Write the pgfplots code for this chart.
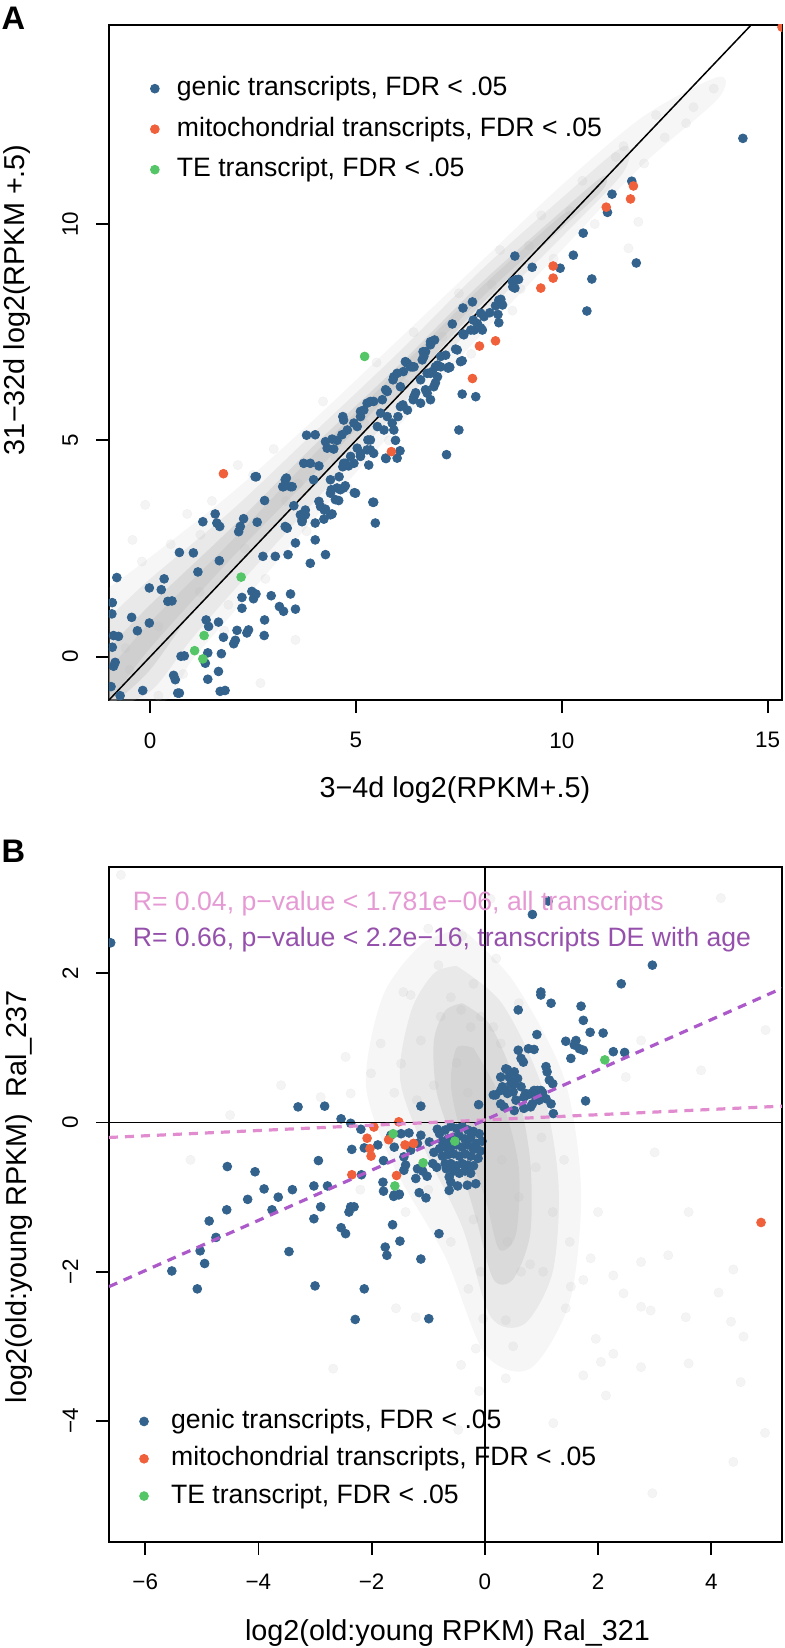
\documentclass[border=0pt]{standalone}
\usepackage{fontspec}
\setmainfont{Liberation Sans}
\usepackage{pgfplots}
\pgfplotsset{compat=1.18}

\definecolor{genic}{HTML}{33638D}
\definecolor{mito}{HTML}{F0603A}
\definecolor{tegreen}{HTML}{55C667}
\definecolor{cloud}{HTML}{B8B8B8}
\definecolor{pinkR}{HTML}{E59AD4}
\definecolor{purpR}{HTML}{9550AC}
\definecolor{pinkL}{HTML}{E28CD0}
\definecolor{purpL}{HTML}{AC5AC9}

\newcommand{\tickfont}{\fontsize{11.2}{13}\selectfont}
\newcommand{\labfont}{\fontsize{14.4}{17}\selectfont}
\newcommand{\legfont}{\fontsize{13.3}{16}\selectfont}

\pgfplotsset{
  rpanel/.style={
    scale only axis, width=336.5pt, height=337.5pt,
    axis line style={line width=0.9pt},
    tick align=outside, major tick length=6.5pt,
    every tick/.style={black, line width=0.9pt},
    xtick pos=lower, ytick pos=left,
    xticklabel style={font=\tickfont},
    yticklabel style={font=\tickfont, rotate=90, anchor=south},
    xticklabel shift=6.2pt, yticklabel shift=5.4pt,
    clip mode=individual, clip marker paths=true,
    legend cell align=left,
    legend image code/.code={\draw[##1] plot coordinates {(0pt,0pt)};},
  },
  genpt/.style={only marks, mark=*, mark size=2.2pt, color=genic},
  mitopt/.style={only marks, mark=*, mark size=2.2pt, color=mito},
  tept/.style={only marks, mark=*, mark size=2.2pt, color=tegreen},
  cloudpt/.style={only marks, mark=*, mark size=2.4pt, forget plot, color=cloud,
    mark options={line width=0.1pt, opacity=0.16}},
  cloudfill/.style={draw=none, fill=cloud, fill opacity=#1, forget plot, smooth, tension=0.5},
}

\begin{document}
\begin{tikzpicture}
\useasboundingbox (0,0) rectangle (392.5pt,-824pt);

% ---------------- panel A ----------------
\begin{axis}[rpanel,
  at={(54.5pt,-350pt)}, anchor=south west,
  xmin=-1.0, xmax=15.35, ymin=-1.0, ymax=14.6,
  xtick={0,5,10,15}, xticklabels={0,5,10,15},
  ytick={0,5,10}, yticklabels={0,5,10},
  xlabel={3−4d log2(RPKM+.5)},
  ylabel={31−32d log2(RPKM +.5)},
  xlabel style={font=\labfont, at={(axis description cs:0.514,-0.1333)}, anchor=center},
  ylabel style={font=\labfont, at={(axis description cs:-0.136,0.593)}, anchor=center},
  legend style={draw=none, fill=none, font=\legfont, inner sep=0pt,
    at={(axis description cs:0.061,0.9255)}, anchor=north west,
    row sep=7.25pt, column sep=8.85pt,
    nodes={inner sep=0pt, text height=10pt, text depth=3pt}},
]
% grey cloud of all transcripts
\addplot[cloudfill=0.12] coordinates {
  (-1,1.6) (0,2.3) (2,3.8) (4,5.5) (6,7.3) (8,9.1) (10,10.9) (12,12.5) (13.8,13.4)
  (13.8,12.9) (12,11.4) (10,9.4) (8,7.4) (6,5.3) (4,3.2) (2,1.0) (1,-0.1) (0.4,-1) (-1,-1) (-1,1.6)};
\addplot[cloudfill=0.22] coordinates {
  (-1,0.9) (0,1.8) (2,3.4) (4,5.2) (6,7.0) (8,8.9) (10,10.6) (11.5,11.8)
  (11.5,11.2) (10,9.7) (8,7.8) (6,5.7) (4,3.6) (2,1.5) (1,0.4) (0,-0.8) (-1,-1) (-1,0.9)};
\addplot[cloudfill=0.32] coordinates {
  (-1,0.2) (0,1.2) (2,3.0) (4,4.9) (6,6.7) (8,8.6) (10,10.3) (11,11.1)
  (11,10.8) (10,9.9) (8,8.1) (6,6.0) (4,4.0) (2,2.0) (1,1.0) (0,-0.3) (-0.8,-1) (-1,-1) (-1,0.2)};
\addplot[cloudfill=0.3] coordinates {
  (-1,-0.3) (0,0.8) (2,2.7) (4,4.7) (6,6.6) (8,8.5) (10,10.2)
  (10,10.0) (8,8.25) (6,6.25) (4,4.25) (2,2.3) (0,0.2) (-1,-1) (-1,-0.3)};
\addplot[cloudpt] coordinates {
  (13.69,13.13) (13.02,12.33) (12.29,12.52) (11.86,10.05) (11.31,11.55) (11.62,9.44)
  (-0.12,3.51) (2.13,4.43) (-0.43,2.70) (1.22,2.82) (3.53,0.39) (2.68,-0.61)
  (0.5,2.6) (1.5,3.6) (2.5,4.2) (3.0,4.8) (4.2,5.9) (5.5,6.8) (6.4,7.5) (7.5,8.4)
  (8.5,9.4) (9.5,10.2) (10.5,11.0) (11.5,11.8) (12.5,12.0) (10.8,10.0) (9.8,9.2)
  (8.8,8.0) (7.8,7.0) (6.8,6.0) (5.8,5.0) (4.8,3.9) (3.8,2.9) (2.8,1.8) (1.8,0.6)
  (0.8,-0.4) (0.2,-0.9) (-0.6,0.2) (-0.2,2.2) (0.9,3.3) (1.9,1.2) (3.3,3.6) (4.5,4.6)
  (6.2,6.3) (7.1,7.4) (8.3,8.6) (9.2,9.5) (10.2,10.3) (2.3,2.5) (1.2,1.5) (0.2,0.7)
  (-0.5,-0.3) (5.2,5.4) (3.6,4.0) (9.0,8.5) (12.0,11.4) (13.2,12.7)};
% identity line
\addplot[black, line width=0.75pt, forget plot] coordinates {(-1,-1) (15.35,15.35)};

\addplot[genpt] coordinates {
  (14.40,11.98) (11.70,10.99) (11.22,10.69) (11.11,10.27) (10.52,9.79) (8.86,9.26)
  (10.28,9.28) (9.28,9.00) (9.96,8.98) (11.81,9.10) (10.73,8.73) (8.88,8.71) (8.81,8.55)
  (8.80,8.67) (8.95,8.72) (8.86,8.52) (10.61,7.99) (7.83,8.20) (7.60,8.06) (8.47,8.24)
  (8.52,8.26) (8.56,8.13) (8.39,8.11) (8.25,7.95) (8.45,7.91) (8.03,7.94) (7.85,7.78)
  (8.47,7.72) (8.03,7.60) (7.79,7.55) (7.34,7.69) (7.60,7.46) (8.11,7.86) (7.95,7.70)
  (8.07,7.55) (7.87,7.55) (7.62,7.44) (7.42,7.11) (7.46,7.09) (7.06,6.94) (7.18,6.97)
  (7.54,6.82) (7.58,6.84) (7.24,6.67) (7.28,6.69) (6.93,6.70) (6.81,7.28) (6.91,7.32)
  (6.81,7.21) (6.63,7.05) (6.69,7.05) (6.61,6.86) (6.65,6.94) (6.98,6.74) (6.85,6.59)
  (6.73,6.55) (6.20,6.82) (6.37,6.70) (6.33,6.70) (6.15,6.59) (5.92,6.47) (5.90,6.40)
  (6.08,6.24) (5.72,6.17) (6.57,6.40) (6.45,6.10) (6.69,6.17) (6.93,6.33) (6.81,5.94)
  (6.39,5.94) (6.14,5.82) (5.35,5.90) (5.11,5.67) (5.60,5.63) (4.68,5.55) (6.02,5.55)
  (7.58,6.07) (7.91,6.01)
  (2.58,4.16) (1.58,3.30) (1.28,3.12) (1.62,3.09) (1.69,3.01) (2.27,3.19) (2.19,3.01)
  (2.60,3.11) (2.15,2.89) (2.78,3.61) (3.31,4.13) (3.24,3.93) (3.45,3.93) (3.49,3.49)
  (3.31,2.99) (3.69,3.16) (3.77,3.28) (4.01,3.09) (4.22,3.18) (4.42,3.30) (4.10,3.59)
  (4.26,3.41) (4.58,3.61) (4.59,4.16) (4.40,3.86) (4.54,3.90) (4.70,3.90) (4.74,3.95)
  (4.38,3.78) (4.96,3.79) (5.43,3.57) (5.47,3.09) (3.97,4.09) (3.73,4.47) (3.89,4.47)
  (4.10,4.41) (3.80,5.12) (4.26,4.97) (4.42,5.03) (4.54,5.00) (4.30,4.82) (4.46,4.80)
  (4.70,5.47) (4.79,5.24) (4.66,5.13) (5.03,5.32) (5.19,5.70) (5.27,5.86) (5.43,5.90)
  (5.11,5.55) (4.95,5.40) (4.70,4.47) (4.82,4.41) (4.95,4.47) (5.31,4.43) (5.11,4.63)
  (5.27,4.78) (5.43,4.70) (5.03,4.82) (5.35,5.01) (5.52,5.32) (5.68,5.24) (5.88,5.40)
  (5.92,5.24) (5.76,5.55) (5.96,5.00) (6.07,4.76) (6.00,4.59) (5.73,4.58) (6.08,5.78)
  (6.25,5.70) (6.41,6.01) (6.57,5.86) (6.73,6.09) (6.89,6.24) (6.98,6.47) (6.81,6.55)
  (7.06,6.70) (7.26,6.70) (6.25,6.78) (6.41,6.70) (6.00,6.55) (5.76,6.13) (5.64,5.94)
  (7.20,4.67) (7.50,5.24)
  (4.01,5.13) (5.72,4.59) (5.29,5.01) (5.35,4.78) (5.11,4.70) (4.87,4.63) (4.74,4.47)
  (4.68,4.39) (4.38,4.09) (4.62,3.86) (4.99,3.78) (3.28,4.09) (3.22,3.93) (3.41,3.93)
  (2.55,4.16) (3.28,3.01) (3.53,2.63) (4.01,2.70) (4.26,2.36) (3.89,2.16) (3.35,2.36)
  (3.04,2.32) (2.74,2.32) (3.65,3.28) (3.77,3.39) (4.14,3.47) (4.38,3.28) (4.50,3.63)
  (4.23,3.39) (5.41,3.57)
  (-0.81,1.83) (-0.92,1.25) (-0.93,0.99) (-0.89,0.49) (-0.77,0.47) (-0.92,0.22)
  (-0.85,-0.13) (-0.89,-0.22) (-0.95,-0.69) (-0.73,-0.90) (-0.45,0.91) (-0.31,0.60)
  (-0.02,0.78) (-0.02,1.59) (0.27,1.55) (0.34,1.80) (0.43,1.28) (0.53,1.29) (0.71,2.41)
  (1.05,2.40) (1.16,1.96) (1.68,2.22) (1.36,0.85) (1.42,0.70) (1.66,0.80) (0.75,0.01)
  (0.83,0.02) (0.57,-0.43) (0.61,-0.53) (0.71,-0.84) (-0.18,-0.78) (1.40,0.09)
  (1.34,-0.15) (1.40,-0.52) (1.66,-0.34) (1.73,0.07) (1.78,0.45) (2.11,0.61) (2.07,0.38)
  (2.03,0.30) (2.35,0.55) (2.39,0.62) (2.77,0.49) (2.78,0.85) (2.23,1.12) (2.23,1.37)
  (2.47,1.51) (2.57,1.45) (2.51,1.34) (2.94,1.41) (3.14,1.16) (3.24,1.05) (3.53,1.10)
  (3.41,1.45) (3.33,2.97) (1.70,-0.80) (1.82,-0.78) (3.69,3.12) (0.67,-0.84)};
\addlegendentry{genic transcripts, FDR < .05}
\addplot[mitopt] coordinates {
  (15.35,14.55) (11.74,10.88) (11.67,10.58) (11.08,10.39) (9.79,9.03) (9.79,8.75)
  (9.49,8.52) (8.39,7.30) (8.00,7.18) (7.83,6.43) (1.78,4.23) (5.86,4.74)};
\addlegendentry{mitochondrial transcripts, FDR < .05}
\addplot[tept] coordinates {
  (5.21,6.94) (2.21,1.84) (1.31,0.49) (1.08,0.14) (1.28,-0.05)};
\addlegendentry{TE transcript, FDR < .05}

\node[font=\bfseries\fontsize{16.3}{19}\selectfont, inner sep=0pt]
  at (axis description cs:-0.142,1.0096) {A};
\end{axis}

% ---------------- panel B ----------------
\begin{axis}[rpanel,
  at={(54.5pt,-770.85pt)}, anchor=south west,
  xmin=-6.64, xmax=5.25, ymin=-5.62, ymax=3.43,
  xtick={-6,-4,-2,0,2,4}, xticklabels={−6,−4,−2,0,2,4},
  ytick={-4,-2,0,2}, yticklabels={−4,−2,0,2},
  xlabel={log2(old:young RPKM) Ral\_321},
  ylabel={log2(old:young RPKM)\ \ Ral\_237},
  xlabel style={font=\labfont, at={(axis description cs:0.503,-0.1353)}, anchor=center},
  ylabel style={font=\labfont, at={(axis description cs:-0.1337,0.511)}, anchor=center},
  legend style={draw=none, fill=none, font=\legfont, inner sep=0pt,
    at={(axis description cs:0.0449,0.198)}, anchor=north west,
    row sep=5.65pt, column sep=11.35pt,
    nodes={inner sep=0pt, text height=10pt, text depth=3pt}},
]
\addplot[cloudfill=0.12] coordinates {
  (-0.4,2.6) (0.5,1.9) (1.4,0.6) (1.7,-0.9) (1.5,-2.4) (0.8,-3.3) (0.0,-3.1) (-0.7,-1.8)
  (-1.6,-0.6) (-2.1,0.5) (-1.8,1.7) (-1.1,2.4) (-0.4,2.6)};
\addplot[cloudfill=0.22] coordinates {
  (-0.5,2.1) (0.3,1.6) (1.0,0.5) (1.3,-0.8) (1.2,-2.0) (0.7,-2.7) (0.1,-2.6) (-0.4,-1.4)
  (-1.1,-0.3) (-1.5,0.6) (-1.3,1.5) (-0.9,2.0) (-0.5,2.1)};
\addplot[cloudfill=0.3] coordinates {
  (-0.4,1.6) (0.1,1.3) (0.55,0.5) (0.8,-0.5) (0.8,-1.5) (0.5,-2.1) (0.15,-2.1) (-0.15,-1.3)
  (-0.5,-0.4) (-0.85,0.4) (-0.9,1.1) (-0.7,1.5) (-0.4,1.6)};
\addplot[cloudfill=0.28] coordinates {
  (-0.2,1.0) (0.3,0.3) (0.6,-0.6) (0.55,-1.5) (0.25,-1.7) (0.0,-1.0) (-0.4,-0.2)
  (-0.6,0.5) (-0.5,1.0) (-0.2,1.0)};
\addplot[cloudpt] coordinates {
  (1.03,-2.00) (1.74,-2.11) (2.27,-2.05) (2.76,-1.87) (3.24,-1.78) (2.45,-2.29) (2.76,-2.47)
  (2.93,-2.52) (3.55,-2.61) (4.35,-2.67) (4.57,-2.87) (1.96,-2.90) (2.27,-3.10) (2.05,-3.21)
  (2.76,-3.28) (3.60,-3.23) (1.74,-3.39) (2.14,-3.66) (4.52,-3.48) (1.21,-4.03) (4.95,-4.16)
  (4.39,-4.55) (2.96,-4.97) (4.13,-2.28) (4.39,-1.97) (1.87,-1.82) (0.37,-2.65) (0.37,-3.43)
  (-0.16,-3.03) (-0.42,-3.25) (-0.47,-4.12) (0.64,-2.00) (-0.07,-2.00) (-0.29,-2.23)
  (-0.03,-2.63) (-1.57,-2.49) (-1.22,-2.61) (-2.68,-3.30) (1.52,-2.20) (1.43,-2.49)
  (-6.43,3.32) (4.17,3.01) (-0.82,2.11) (-1.44,1.75) (-1.31,1.71) (-0.20,1.86) (-0.60,1.68)
  (-0.42,1.51) (-0.78,1.42) (-0.25,1.28) (-0.07,1.42) (0.15,1.28) (0.28,1.06) (2.49,0.61)
  (2.76,1.10) (3.82,0.70) (4.96,1.24) (-2.46,0.88) (-1.84,1.06) (-1.13,1.10) (-2.01,0.66)
  (-1.48,0.79) (-2.90,0.34) (-2.37,0.39)
  (-0.5,0.8) (-0.9,0.5) (-1.2,0.3) (-0.3,0.4) (0.3,-0.5) (0.6,-1.0) (0.9,-0.6) (1.2,-1.2)
  (0.4,-1.6) (0.8,-1.9) (-0.2,-1.3) (-0.6,-1.6) (1.0,-0.2) (1.4,-0.5) (-1.0,-0.9)
  (-1.4,-1.2) (0.2,2.2) (-0.4,2.5) (0.6,1.6) (-1.6,0.4) (-0.1,-3.6) (0.5,-3.0) (1.5,-1.6)
  (2.0,-1.2) (-2.2,-0.9) (-3.6,0.5) (-4.5,0.1) (3.0,-0.4) (3.6,-1.2) (-5.2,-0.5)
  (0.1,3.0) (-1.0,2.6)};

\addplot[genpt] coordinates {
  (-6.61,2.41) (1.12,2.97) (0.84,2.79) (2.96,2.11) (2.41,1.86) (0.99,1.75) (0.99,1.71)
  (1.17,1.60) (0.59,1.51) (1.70,1.56) (1.74,1.37) (1.86,1.21) (2.09,1.20) (0.92,1.18)
  (1.43,1.09) (1.61,1.10) (1.58,1.04) (1.67,0.99) (1.74,0.97) (1.52,0.86) (2.27,0.95)
  (2.47,0.94) (0.59,0.97) (0.77,0.99) (0.87,0.98) (0.64,0.86) (0.68,0.81) (0.37,0.72)
  (0.40,0.71) (0.28,0.61) (0.52,0.68) (0.58,0.59) (0.15,0.37) (0.28,0.25) (0.55,0.30)
  (0.81,0.21) (1.17,0.25) (1.21,0.12) (1.08,0.75) (1.10,0.68) (1.14,0.57) (1.20,0.52)
  (1.02,0.40) (0.99,0.43) (1.78,0.29) (0.46,0.52) (0.64,0.48) (0.72,0.39) (0.90,0.34)
  (0.50,0.41) (0.37,0.43) (0.43,0.61) (0.31,0.48) (0.40,0.39) (0.19,0.37) (0.69,0.34)
  (0.81,0.39) (0.93,0.43) (0.28,0.43) (0.52,0.52) (0.75,0.37) (0.87,0.43) (0.99,0.39)
  (1.08,0.32) (0.34,0.21) (0.52,0.16) (0.69,0.19) (0.84,0.25) (0.96,0.30)
  (-0.11,0.24) (-1.13,0.22) (-2.83,0.22) (-3.30,0.21) (-2.54,0.05) (-2.37,-0.01)
  (-2.19,-0.09) (-2.13,-0.34) (-1.89,-0.30) (-1.79,-0.51) (-1.80,-0.80) (-1.79,-0.92)
  (-1.63,-1.37) (-1.76,-1.67) (-1.73,-1.78) (-1.50,-1.59) (-1.61,-0.99) (-1.52,-0.97)
  (-2.35,-0.36) (-2.18,-0.70) (-2.94,-0.51) (-4.55,-0.59) (-4.06,-0.66) (-3.90,-0.89)
  (-3.65,-1.00) (-3.40,-0.90) (-4.19,-1.03) (-4.56,-1.17) (-3.76,-1.17) (-4.87,-1.32)
  (-4.75,-1.54) (-5.03,-1.72) (-4.95,-1.89) (-5.53,-1.99) (-5.08,-2.23) (-3.46,-1.73)
  (-3.00,-2.19) (-2.13,-2.23) (-3.02,-0.85) (-2.78,-0.85) (-2.90,-1.13) (-3.02,-1.29)
  (-2.37,-1.13) (-2.31,-1.13) (-2.40,-1.20) (-2.54,-1.41) (-2.46,-1.49) (-2.29,-2.64)
  (-1.13,-1.83) (-0.99,-2.63) (-0.81,-1.49)
  (-1.66,-0.17) (-1.48,-0.15) (-1.34,-0.14) (-1.60,-0.33) (-1.43,-0.46) (-1.31,-0.37)
  (-1.13,-0.17) (-0.98,-0.26) (-1.19,-0.28) (-1.40,-0.57) (-1.43,-0.64) (-1.19,-0.62)
  (-1.10,-0.65) (-1.02,-0.72) (-1.22,-0.75) (-1.60,-0.97) (-1.51,-0.96) (-1.16,-0.94)
  (-1.04,-1.01) (-0.63,-0.73) (-0.60,-0.80) (-0.63,-0.91) (-0.48,-0.85) (-0.31,-0.84)
  (-0.16,-0.82) (-0.84,-0.09)
  (-0.80,-0.15) (-0.70,-0.10) (-0.60,-0.05) (-0.50,-0.08) (-0.40,-0.05) (-0.30,-0.10)
  (-0.20,-0.12) (-0.10,-0.15) (-0.05,-0.25) (-0.75,-0.25) (-0.65,-0.22) (-0.55,-0.20)
  (-0.45,-0.18) (-0.35,-0.22) (-0.25,-0.20) (-0.15,-0.28) (-0.80,-0.35) (-0.70,-0.33)
  (-0.60,-0.32) (-0.50,-0.30) (-0.40,-0.33) (-0.30,-0.30) (-0.20,-0.36) (-0.08,-0.38)
  (-0.75,-0.45) (-0.65,-0.43) (-0.55,-0.42) (-0.45,-0.45) (-0.35,-0.42) (-0.25,-0.45)
  (-0.12,-0.48) (-0.70,-0.55) (-0.60,-0.55) (-0.50,-0.58) (-0.40,-0.55) (-0.30,-0.57)
  (-0.20,-0.58) (-0.55,-0.65) (-0.45,-0.68) (-0.35,-0.65) (-0.68,-0.62) (-0.25,-0.68)
  (-0.90,-0.40) (-0.92,-0.55) (-0.85,-0.60)};
\addlegendentry{genic transcripts, FDR < .05}
\addplot[mitopt] coordinates {
  (-1.96,-0.06) (-1.52,0.01) (-2.08,-0.21) (-2.03,-0.35) (-2.01,-0.45) (-1.70,-0.23)
  (-1.41,-0.30) (-1.26,-0.28) (-2.35,-0.70) (-1.56,-0.71) (4.88,-1.34)};
\addlegendentry{mitochondrial transcripts, FDR < .05}
\addplot[tept] coordinates {
  (2.12,0.84) (-1.62,-0.15) (-0.53,-0.25) (-1.09,-0.54) (-1.59,-0.85)};
\addlegendentry{TE transcript, FDR < .05}

% reference lines and fitted regressions
\addplot[black, line width=0.75pt, forget plot] coordinates {(0,-5.62) (0,3.43)};
\addplot[black, line width=0.75pt, forget plot] coordinates {(-6.64,0) (5.25,0)};
\addplot[pinkL, line width=1.6pt, dash pattern=on 4.5pt off 3.5pt, forget plot]
  coordinates {(-6.64,-0.20) (5.25,0.22)};
\addplot[purpL, line width=1.6pt, dash pattern=on 4.5pt off 3.5pt, forget plot]
  coordinates {(-6.64,-2.20) (5.25,1.80)};

\node[anchor=west, inner sep=0pt, font=\legfont, text=pinkR]
  at (axis description cs:0.0349,0.946) {R= 0.04, p−value < 1.781e−06, all transcripts};
\node[anchor=west, inner sep=0pt, font=\legfont, text=purpR]
  at (axis description cs:0.0349,0.892) {R= 0.66, p−value < 2.2e−16, transcripts DE with age};
\node[font=\bfseries\fontsize{16.3}{19}\selectfont, inner sep=0pt]
  at (axis description cs:-0.142,1.023) {B};
\end{axis}
\end{tikzpicture}
\end{document}
